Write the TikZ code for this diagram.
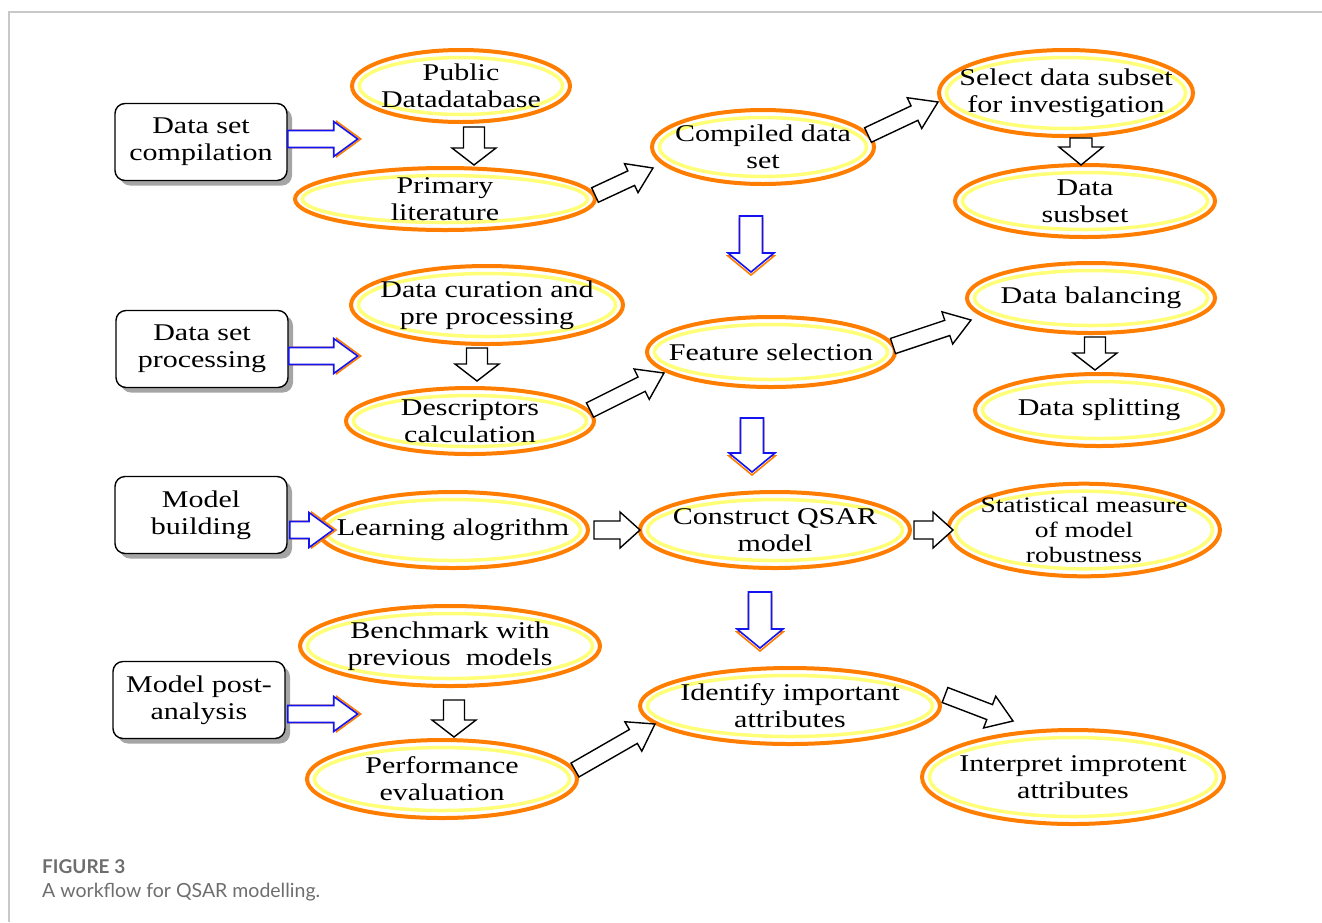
\documentclass[tikz,border=0pt]{standalone}
\usepackage{fontspec}
\setmainfont{Liberation Serif}[FakeStretch=1.25]
\newfontfamily\capfont{Lato}
\usetikzlibrary{shapes.geometric, calc}

\definecolor{ellorange}{RGB}{255,125,0}
\definecolor{ellyellow}{RGB}{255,255,120}
\definecolor{shadowgray}{RGB}{165,165,165}
\definecolor{framegray}{RGB}{200,200,200}
\definecolor{capgray}{RGB}{110,110,110}
\definecolor{arrblue}{RGB}{20,20,240}

\newcommand\blkW{9pt}
\newcommand\blkH{18pt}
\newcommand\blkL{20pt}

\begin{document}
\begin{tikzpicture}[
  x=1pt, y=-1pt,
  every node/.style={font=\fontsize{24}{27}\selectfont},
  %% left column boxes
  box/.style={draw, line width=1.4pt, rounded corners=10pt, fill=white,
    minimum width=172pt, minimum height=77pt, align=center, inner sep=0pt,
    preaction={fill=shadowgray, transform canvas={shift={(5,5)}}}},
  %% orange / yellow ellipses
  stage/.style={ellipse, draw=ellorange, line width=4pt, fill=white,
    inner sep=0pt, inner xsep=-60pt, align=center,
    path picture={\draw[ellyellow, line width=3.5pt]
      let \p1=($(path picture bounding box.north east)-(path picture bounding box.center)$)
      in (path picture bounding box.center)
      ellipse [x radius=\x1-7.5pt, y radius=\y1-7.5pt];}},
  %% hollow block arrows
  aw/.code={\renewcommand\blkW{#1}},
  ah/.code={\renewcommand\blkH{#1}},
  al/.code={\renewcommand\blkL{#1}},
  blk/.style={draw, line width=1.4pt, fill=white, line join=miter,
    to path={let \p1=($(\tikztotarget)!\blkL!(\tikztostart)$) in
      ($(\tikztostart)!\blkW!90:(\tikztotarget)$) --
      ($(\p1)!\blkW!90:(\tikztotarget)$) --
      ($(\p1)!\blkH!90:(\tikztotarget)$) --
      (\tikztotarget) --
      ($(\p1)!\blkH!-90:(\tikztotarget)$) --
      ($(\p1)!\blkW!-90:(\tikztotarget)$) --
      ($(\tikztostart)!\blkW!-90:(\tikztotarget)$) -- cycle}},
  bluer/.style={blk, draw=arrblue, line width=1.6pt, aw=8.5pt, ah=17.5pt, al=24pt,
    preaction={draw=ellorange, fill=none, line width=1.6pt,
      transform canvas={shift={#1}}}},
]
\useasboundingbox (0,0) rectangle (1322,922);

%% frame
\draw[framegray, line width=1.2pt] (9,922) -- (9,12) -- (1322,12);

%% ---------------- ROW 1 — Data set compilation
\node[box] (b1) at (201,142) {Data set\\compilation};
\node[stage, minimum width=218pt, minimum height=72pt] (pub) at (461,86) {Public\\Datadatabase};
\node[stage, minimum width=300pt, minimum height=62pt] (prim) at (445,199) {Primary\\literature};
\node[stage, minimum width=222pt, minimum height=74pt] (comp) at (763,147) {Compiled data\\set};
\node[stage, minimum width=254pt, minimum height=86pt] (sel) at (1066,93) {Select data subset\\for investigation};
\node[stage, minimum width=260pt, minimum height=72pt] (sub) at (1085,201) {Data\\susbset};

%% ---------------- ROW 2 — Data set processing
\node[box] (b2) at (202,349) {Data set\\processing};
\node[stage, minimum width=272pt, minimum height=78pt] (cur) at (487,305) {Data curation and\\pre processing};
\node[stage, minimum width=248pt, minimum height=66pt] (desc) at (470,421) {Descriptors\\calculation};
\node[stage, minimum width=248pt, minimum height=70pt] (feat) at (771,352) {Feature selection};
\node[stage, minimum width=248pt, minimum height=70pt] (bal) at (1091,298) {Data balancing};
\node[stage, minimum width=248pt, minimum height=72pt] (split) at (1099,410) {Data splitting};

%% ---------------- ROW 3 — Model building
\node[box] (b3) at (201,515) {Model\\building};
\node[stage, minimum width=270pt, minimum height=76pt] (learn) at (453,530) {Learning alogrithm};
\node[stage, minimum width=270pt, minimum height=76pt] (qsar) at (775,530) {Construct QSAR\\model};
\node[stage, minimum width=272pt, minimum height=90pt,
  font=\fontsize{22}{25}\selectfont] (stat) at (1084,530) {Statistical measure\\of model\\robustness};

%% ---------------- ROW 4 — Model post-analysis
\node[box] (b4) at (199,700) {Model post-\\analysis};
\node[stage, minimum width=300pt, minimum height=80pt] (bench) at (450,646) {Benchmark with\\previous\ \ models};
\node[stage, minimum width=270pt, minimum height=78pt] (perf) at (442,779) {Performance\\evaluation};
\node[stage, minimum width=300pt, minimum height=76pt] (ident) at (790,706) {Identify important\\attributes};
\node[stage, minimum width=302pt, minimum height=94pt] (interp) at (1073,777) {Interpret improtent\\attributes};

%% ---------------- arrow end points
\coordinate (r1s) at ($(b1.east)+(0,-3)$);   \coordinate (r1e) at ($(b1.east)+(70,-3)$);
\coordinate (r2s) at ($(b2.east)+(0,7)$);    \coordinate (r2e) at ($(b2.east)+(69,7)$);
\coordinate (r3s) at ($(b3.east)+(2,15)$);   \coordinate (r3e) at ($(learn.west)+(17,0)$);
\coordinate (r4s) at ($(b4.east)+(2,14)$);   \coordinate (r4e) at ($(b4.east)+(72,14)$);

\coordinate (d1s) at ($(comp.south)+(-12,30)$);  \coordinate (d1e) at ($(feat.north)+(-20,-43)$);
\coordinate (d2s) at ($(feat.south)+(-19,29)$);  \coordinate (d2e) at ($(qsar.north)+(-23,-18)$);
\coordinate (d3s) at ($(qsar.south)+(-15,22)$);  \coordinate (d3e) at ($(ident.north)+(-30,-18)$);

\coordinate (aS) at ($(pub.south)+(13,3)$);    \coordinate (aE) at ($(prim.north)+(29,-1)$);
\coordinate (bS) at ($(prim.east)+(-2,-4)$);   \coordinate (bE) at ($(comp.west)+(3,21)$);
\coordinate (cS) at ($(comp.east)+(-8,-12)$);  \coordinate (cE) at ($(sel.west)+(1,9)$);
\coordinate (dS) at ($(sel.south)+(15,0)$);    \coordinate (dE) at ($(sub.north)+(-4,2)$);
\coordinate (eS) at ($(cur.south)+(-10,2)$);   \coordinate (eE) at ($(desc.north)+(7,-5)$);
\coordinate (fS) at ($(desc.east)+(-6,-11)$);  \coordinate (fE) at ($(feat.west)+(19,21)$);
\coordinate (gS) at ($(feat.east)+(-4,-6)$);   \coordinate (gE) at ($(bal.west)+(6,22)$);
\coordinate (hS) at ($(bal.south)+(4,2)$);     \coordinate (hE) at ($(split.north)+(-4,-2)$);
\coordinate (iS) at ($(learn.east)+(4,0)$);    \coordinate (iE) at ($(qsar.west)+(2,0)$);
\coordinate (jS) at ($(qsar.east)+(2,0)$);     \coordinate (jE) at ($(stat.west)+(7,0)$);
\coordinate (kS) at ($(bench.south)+(4,12)$);  \coordinate (kE) at ($(perf.north)+(12,-1)$);
\coordinate (lS) at ($(perf.east)+(-4,-9)$);   \coordinate (lE) at ($(ident.west)+(17,18)$);
\coordinate (mS) at ($(ident.east)+(3,-11)$);  \coordinate (mE) at ($(interp.north)+(-60,-7)$);

%% blue arrows
\draw[bluer={(3,0)}] (r1s) to (r1e);
\draw[bluer={(3,0)}] (r2s) to (r2e);
\draw[bluer={(3,0)}] (r3s) to (r3e);
\draw[bluer={(3,0)}] (r4s) to (r4e);
\draw[bluer={(0,3)}, aw=11.5pt, ah=23pt, al=19pt] (d1s) to (d1e);
\draw[bluer={(0,3)}, aw=11.5pt, ah=23pt, al=19pt] (d2s) to (d2e);
\draw[bluer={(0,3)}, aw=11.5pt, ah=23pt, al=19pt] (d3s) to (d3e);

%% black arrows
\draw[blk, aw=10.5pt, ah=22pt, al=17pt] (aS) to (aE);
\draw[blk, aw=8pt, ah=16pt, al=24pt] (bS) to (bE);
\draw[blk, aw=8pt, ah=17pt, al=26pt] (cS) to (cE);
\draw[blk, aw=11pt, ah=22pt, al=18pt] (dS) to (dE);
\draw[blk, aw=10.5pt, ah=22pt, al=17pt] (eS) to (eE);
\draw[blk, aw=8pt, ah=17pt, al=25pt] (fS) to (fE);
\draw[blk, aw=8pt, ah=17pt, al=25pt] (gS) to (gE);
\draw[blk, aw=10.5pt, ah=22pt, al=17pt] (hS) to (hE);
\draw[blk] (iS) to (iE);
\draw[blk] (jS) to (jE);
\draw[blk, aw=10.5pt, ah=22pt, al=17pt] (kS) to (kE);
\draw[blk, aw=8pt, ah=17pt, al=25pt] (lS) to (lE);
\draw[blk, aw=8pt, ah=17pt, al=25pt] (mS) to (mE);

%% caption
\node[anchor=base west, inner sep=0pt, text=capgray,
  font=\capfont\bfseries\fontsize{19}{21}\selectfont] (figno) at (42,873) {FIGURE 3};
\node[anchor=base west, inner sep=0pt, text=capgray,
  font=\capfont\fontsize{19.5}{21}\selectfont] (figcap) at (42,897) {A workflow for QSAR modelling.};
\end{tikzpicture}
\end{document}
